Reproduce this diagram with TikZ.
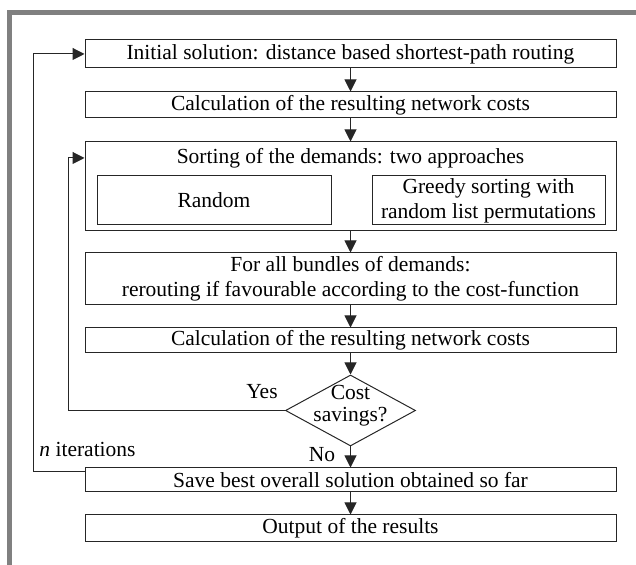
\documentclass[tikz,border=0pt]{standalone}
\usepackage{fontspec}
\setmainfont{Liberation Serif}
\usepackage{tikz}
\usetikzlibrary{arrows.meta, shapes.geometric}
\newlength{\unitx}
\newlength{\unity}
\makeatletter
\newcommand\GetUnits{%
  \pgfpointxy{1}{1}%
  \setlength{\unitx}{\pgf@x}%
  \setlength{\unity}{\pgf@y}%
}
\makeatother

\begin{document}
\begin{tikzpicture}
    [
      x=0.5pt,
      y=0.5pt,
      txt/.style={inner sep=0pt,align=center,font=\fontsize{10.75}{12.5}\selectfont},
      blk/.style={txt,rectangle,draw=black!85,line width=0.5pt,minimum width=531\unitx},
      dec/.style={txt,diamond,draw=black!85,line width=0.5pt,minimum width=130\unitx,minimum height=71\unity},
      arr/.style={draw=black!85,line width=0.5pt,-{Triangle[length=6pt,width=6pt]}},
    ]\GetUnits
    \useasboundingbox (0, 0) rectangle (636, 565);
    \draw[gray, line width=2.5pt] (9.5, 0) -- (9.5, 552.5) -- (636, 552.5);

    \node at (350.5, 511)   [blk, minimum height=28\unity] (init) {Initial solution: distance based shortest-path routing};
    \node at (350.5, 460)   [blk, minimum height=26\unity] (calc1) {Calculation of the resulting network costs};
    \node at (350.5, 378.5) [blk, minimum height=89\unity] (sort) {};
    \node at (350.5, 407)   [txt] (sorttitle) {Sorting of the demands: two approaches};
    \node at (214, 364.5)   [blk, minimum width=234\unitx, minimum height=49\unity] (rand) {Random};
    \node at (488.5, 364.5) [blk, minimum width=233\unitx, minimum height=49\unity] (greedy) {Greedy sorting with\\random list permutations};
    \node at (350.5, 286)   [blk, minimum height=52\unity] (bundles) {For all bundles of demands:\\rerouting if favourable according to the cost-function};
    \node at (350.5, 224.5) [blk, minimum height=25\unity] (calc2) {Calculation of the resulting network costs};
    \node at (350.5, 154.5) [dec] (cost) {\smash{\makebox[0pt]{\begin{tabular}{@{}c@{}}Cost\\[-1.5pt]savings?\end{tabular}}}};
    \node at (350.5, 85)    [blk, minimum height=24\unity] (save) {Save best overall solution obtained so far};
    \node at (350.5, 36.5)  [blk, minimum height=27\unity] (out) {Output of the results};

    \draw[arr] (init) -- (calc1);
    \draw[arr] (calc1) -- (sort);
    \draw[arr] (sort) -- (bundles);
    \draw[arr] (bundles) -- (calc2);
    \draw[arr] (calc2) -- (cost);
    \draw[arr] (cost) -- (save);
    \draw[arr] (save) -- (out);

    \coordinate (yesx) at (68, 0);
    \coordinate (iterx) at (33, 0);
    \draw[arr] (cost.west) -| (yesx |- sorttitle) -- (sort.west |- sorttitle);
    \draw[arr] ([yshift=4pt]save.west) -| (iterx |- init) -- (init.west);

    \node at (262, 173)  [txt] (yes) {Yes};
    \node at (322, 110)  [txt] (no) {No};
    \node at (87.5, 116) [txt] (iter) {\textit{n} iterations};
  \end{tikzpicture}
\end{document}
